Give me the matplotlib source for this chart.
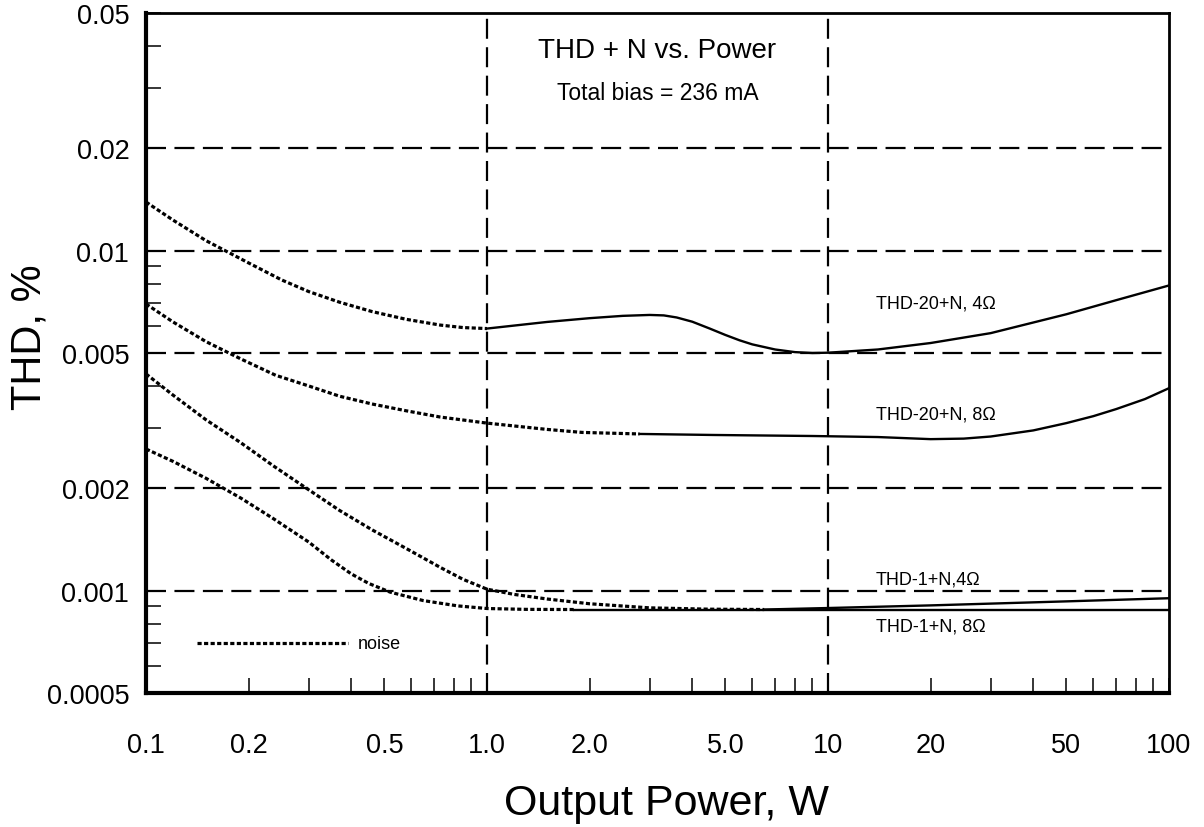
import numpy as np
import matplotlib
matplotlib.use("Agg")
import matplotlib.pyplot as plt
from matplotlib.ticker import FixedLocator, LogLocator, NullFormatter

plt.rcParams['font.family'] = ['Liberation Sans', 'DejaVu Sans']

# THD-20+N, 4 ohm
p20_4_noise = [0.1, 0.12, 0.15, 0.2, 0.25, 0.3, 0.37, 0.46, 0.58, 0.73, 0.85, 1.0]
thd20_4_noise = [0.0139, 0.0123, 0.0107, 0.0092, 0.0082, 0.00758, 0.00705, 0.00662,
                 0.00628, 0.00604, 0.00594, 0.0059]
p20_4 = [1.0, 1.5, 2.0, 2.5, 3.0, 3.3, 3.6, 4.0, 4.5, 5.0, 5.5, 6.0, 7.0, 8.0, 9.0, 10,
         14, 20, 30, 50, 70, 100]
thd20_4 = [0.0059, 0.00617, 0.00633, 0.00643, 0.00647, 0.00645, 0.00636, 0.00618, 0.0059,
           0.00565, 0.00545, 0.0053, 0.00512, 0.00503, 0.0050, 0.00501, 0.00512, 0.00535,
           0.00572, 0.0065, 0.00715, 0.0079]

# THD-20+N, 8 ohm
p20_8_noise = [0.1, 0.12, 0.15, 0.19, 0.24, 0.3, 0.37, 0.46, 0.58, 0.73, 1.0, 1.5, 1.9, 2.8]
thd20_8_noise = [0.00697, 0.00617, 0.0054, 0.0048, 0.0043, 0.0040, 0.00373, 0.00354,
                 0.00338, 0.00324, 0.00311, 0.00298, 0.00292, 0.00289]
p20_8 = [2.8, 4.6, 9, 14, 20, 25, 30, 40, 50, 60, 70, 85, 100]
thd20_8 = [0.00289, 0.00287, 0.00285, 0.00283, 0.00279, 0.0028, 0.00284, 0.00296,
           0.00311, 0.00326, 0.00342, 0.00366, 0.00394]

# THD-1+N, 4 ohm
p1_4_noise = [0.1, 0.12, 0.15, 0.19, 0.236, 0.3, 0.37, 0.46, 0.58, 0.73, 0.85, 1.0, 1.2,
              1.5, 2.0, 3.0, 4.5, 6.5]
thd1_4_noise = [0.00434, 0.00376, 0.00318, 0.00272, 0.00233, 0.00198, 0.00172, 0.00151,
                0.00133, 0.00117, 0.00108, 0.00101, 0.000975, 0.000945, 0.000915, 0.00089,
                0.000882, 0.00088]
p1_4 = [6.5, 10, 20, 50, 100]
thd1_4 = [0.00088, 0.000889, 0.000905, 0.00093, 0.00095]

# THD-1+N, 8 ohm
p1_8_noise = [0.1, 0.12, 0.15, 0.19, 0.236, 0.3, 0.35, 0.4, 0.45, 0.52, 0.65, 0.82, 1.0,
              1.3, 1.8]
thd1_8_noise = [0.00261, 0.0024, 0.00214, 0.00187, 0.00163, 0.00139, 0.00123, 0.00112,
                0.00105, 0.00099, 0.000935, 0.000902, 0.000886, 0.000881, 0.00088]
p1_8 = [1.8, 100]
thd1_8 = [0.00088, 0.00088]

xticks = [0.1, 0.2, 0.5, 1.0, 2.0, 5.0, 10, 20, 50, 100]
xtick_labels = ['0.1', '0.2', '0.5', '1.0', '2.0', '5.0', '10', '20', '50', '100']
yticks = [0.0005, 0.001, 0.002, 0.005, 0.01, 0.02, 0.05]
ytick_labels = ['0.0005', '0.001', '0.002', '0.005', '0.01', '0.02', '0.05']
hgrid = [0.001, 0.002, 0.005, 0.01, 0.02]
vgrid = [1.0, 10]

fig = plt.figure(figsize=(12.04, 8.28), dpi=100)
ax = fig.add_axes([146 / 1204, 1 - 694 / 828, 1023 / 1204, 680 / 828])
ax.set_xscale('log')
ax.set_yscale('log')
ax.set_xlim(0.1, 100)
ax.set_ylim(0.0005, 0.05)

grid_ls = (0, (9, 3.8))
for y in hgrid:
    ax.axhline(y, color='black', lw=1.6, ls=grid_ls, zorder=1)
for x in vgrid:
    ax.axvline(x, color='black', lw=1.6, ls=grid_ls, zorder=1)

dot_ls = (0, (1.3, 0.75))
for px, py in [(p20_4_noise, thd20_4_noise), (p20_8_noise, thd20_8_noise),
               (p1_4_noise, thd1_4_noise), (p1_8_noise, thd1_8_noise)]:
    ax.plot(px, py, color='black', lw=2.3, ls=dot_ls, zorder=3)
for px, py in [(p20_4, thd20_4), (p20_8, thd20_8), (p1_4, thd1_4), (p1_8, thd1_8)]:
    ax.plot(px, py, color='black', lw=1.7, zorder=3)

# ticks
ax.xaxis.set_major_locator(FixedLocator(xticks))
ax.set_xticklabels(xtick_labels)
ax.xaxis.set_minor_locator(LogLocator(base=10, subs=np.arange(2, 10)))
ax.xaxis.set_minor_formatter(NullFormatter())
ax.yaxis.set_major_locator(FixedLocator(yticks))
ax.set_yticklabels(ytick_labels)
ax.yaxis.set_minor_locator(LogLocator(base=10, subs=np.arange(2, 10)))
ax.yaxis.set_minor_formatter(NullFormatter())
ax.tick_params(which='both', direction='in', length=10.8, width=1.1,
               top=False, right=False, colors='black')
ax.tick_params(axis='x', which='major', pad=28, labelsize=19.5)
ax.tick_params(axis='y', which='major', pad=12, labelsize=19.5)

for s in ['left', 'bottom']:
    ax.spines[s].set_linewidth(3.0)
for s in ['top', 'right']:
    ax.spines[s].set_linewidth(2.0)

# labels
fig.text(666 / 1204, 1 - 815 / 828, 'Output Power, W', fontsize=31, ha='center',
         va='baseline')
fig.text(29 / 1204, 1 - 337 / 828, 'THD, %', fontsize=30, ha='center', va='center',
         rotation=90)

ax.text(0.5, 0.9456, 'THD + N vs. Power', transform=ax.transAxes, fontsize=20,
        ha='center', va='center')
ax.text(0.5, 0.8838, 'Total bias = 236 mA', transform=ax.transAxes, fontsize=16.5,
        ha='center', va='center')

ax.text(0.7136, 0.5735, 'THD-20+N, 4Ω', transform=ax.transAxes, fontsize=13, va='center')
ax.text(0.7136, 0.410, 'THD-20+N, 8Ω', transform=ax.transAxes, fontsize=13, va='center')
ax.text(0.7136, 0.1676, 'THD-1+N,4Ω', transform=ax.transAxes, fontsize=13, va='center')
ax.text(0.7136, 0.0985, 'THD-1+N, 8Ω', transform=ax.transAxes, fontsize=13, va='center')

# noise legend
ax.plot([0.05, 0.1974], [0.0735, 0.0735], transform=ax.transAxes, color='black',
        lw=2.3, ls=dot_ls)
ax.text(0.207, 0.0735, 'noise', transform=ax.transAxes, fontsize=13, va='center')

fig.savefig('out.png', dpi=100)
